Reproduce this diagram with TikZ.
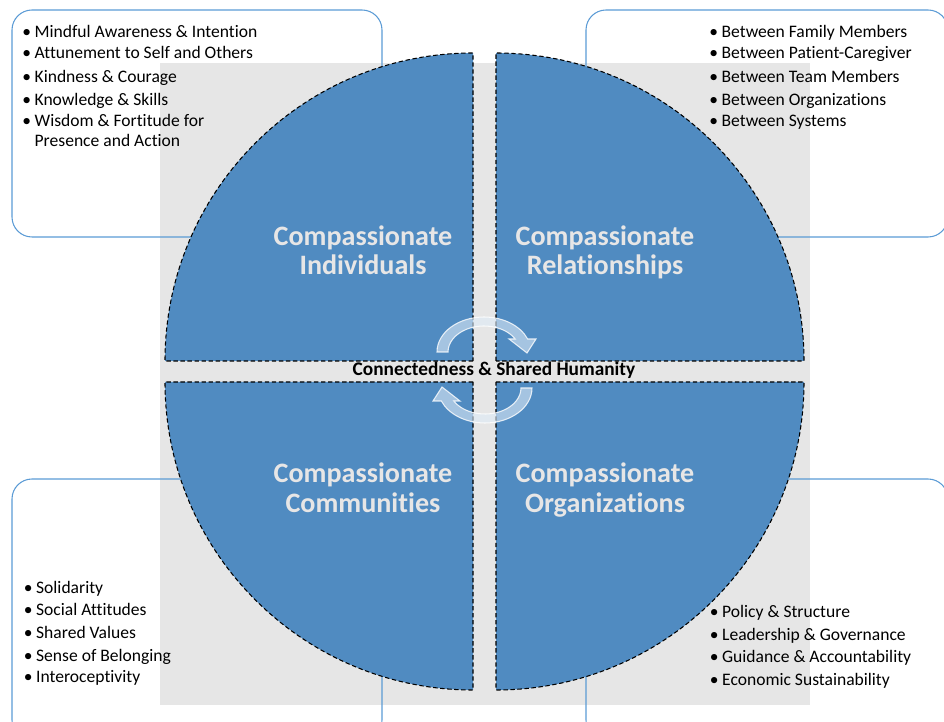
\documentclass[tikz,border=0pt]{standalone}
\usepackage{fontspec}
\setmainfont{Carlito}[Ligatures=CommonOff]
\definecolor{quadblue}{RGB}{80,139,193}
\definecolor{boxblue}{RGB}{91,155,213}
\definecolor{bggray}{RGB}{230,230,230}
\definecolor{titlegray}{RGB}{231,230,230}
\definecolor{arrowfill}{RGB}{222,235,247}
\newcommand{\itm}[1]{\makebox[7pt][l]{\textbullet}#1}
\tikzset{
    quadrant/.style={fill=quadblue, draw=black, line width=0.6pt, dash pattern=on 2.5pt off 1.5pt},
    listbox/.style={draw=boxblue, line width=0.6pt, rounded corners=0.4cm},
    quadtitle/.style={anchor=base, text=titlegray, font=\fontsize{16}{17}\selectfont\bfseries, align=center},
    items/.style={anchor=base west, inner sep=0pt, align=left, font=\fontsize{10}{11.8}\selectfont},
    cyclearrow/.style={fill=arrowfill, fill opacity=0.6, draw=white, draw opacity=0.8, line width=0.6pt},
}
\begin{document}
\begin{tikzpicture}[x=0.02cm, y=-0.02cm]
    \useasboundingbox (0,0) rectangle (944,722);
    \clip (0,0) rectangle (944,722);
    % background and list frames
    \fill[bggray] (160,63) rectangle (810,705);
    \draw[listbox] (12,10) rectangle (382,237);
    \draw[listbox] (586,10) rectangle (948,237);
    \draw[listbox] (12,479) rectangle (382,740);
    \draw[listbox] (586,479) rectangle (948,740);
    % the four quarters
    \draw[quadrant] (473,361) -- (165,361) arc[start angle=180, end angle=270, radius=308] -- cycle;
    \draw[quadrant] (496,361) -- (496,53) arc[start angle=270, end angle=360, radius=308] -- cycle;
    \draw[quadrant] (473,382) -- (165,382) arc[start angle=180, end angle=90, radius=308] -- cycle;
    \draw[quadrant] (496,382) -- (804,382) arc[start angle=0, end angle=90, radius=308] -- cycle;
    % turning arrows
    \foreach \r in {0,180}
        \draw[cyclearrow, rotate around={\r:(484.5,370)}] (437,352)
            arc[start angle=180, end angle=338.2, x radius=47, y radius=35]
            -- (536,339) -- (527,353) -- (509,339) -- (515.2,339)
            arc[start angle=330, end angle=180, x radius=36, y radius=26] -- cycle;
    \node[quadtitle] (indiv) at (363,275) {Compassionate\\Individuals};
    \node[quadtitle] (relat) at (605,275) {Compassionate\\Relationships};
    \node[quadtitle] (commu) at (363,512.5) {Compassionate\\Communities};
    \node[quadtitle] (organ) at (605,512.5) {Compassionate\\Organizations};
    \node[anchor=base, font=\fontsize{11}{13}\selectfont\bfseries] (shared) at (494,375.5) {Connectedness \& Shared Humanity};
    % lists (anchored at the baseline of their last line)
    \node[items] (indivlist) at (22,146.8) {\itm{Mindful Awareness \& Intention}\\
        \itm{Attunement to Self and Others}\\[2pt]
        \itm{Kindness \& Courage}\\[1.3pt]
        \itm{Knowledge \& Skills}\\
        \itm{Wisdom \& Fortitude for}\\
        \hspace*{7pt}Presence and Action};
    \node[items] (relatlist) at (709,126.1) {\itm{Between Family Members}\\
        \itm{Between Patient-Caregiver}\\[2pt]
        \itm{Between Team Members}\\[1.3pt]
        \itm{Between Organizations}\\
        \itm{Between Systems}};
    \node[items] (commulist) at (23.5,682.8) {\itm{Solidarity}\\[0.7pt]
        \itm{Social Attitudes}\\[1.5pt]
        \itm{Shared Values}\\[1.1pt]
        \itm{Sense of Belonging}\\[0.4pt]
        \itm{Interoceptivity}};
    \node[items] (organlist) at (709.5,685.4) {\itm{Policy \& Structure}\\[0.9pt]
        \itm{Leadership \& Governance}\\[1.1pt]
        \itm{Guidance \& Accountability}\\[1.1pt]
        \itm{Economic Sustainability}};
\end{tikzpicture}
\end{document}
